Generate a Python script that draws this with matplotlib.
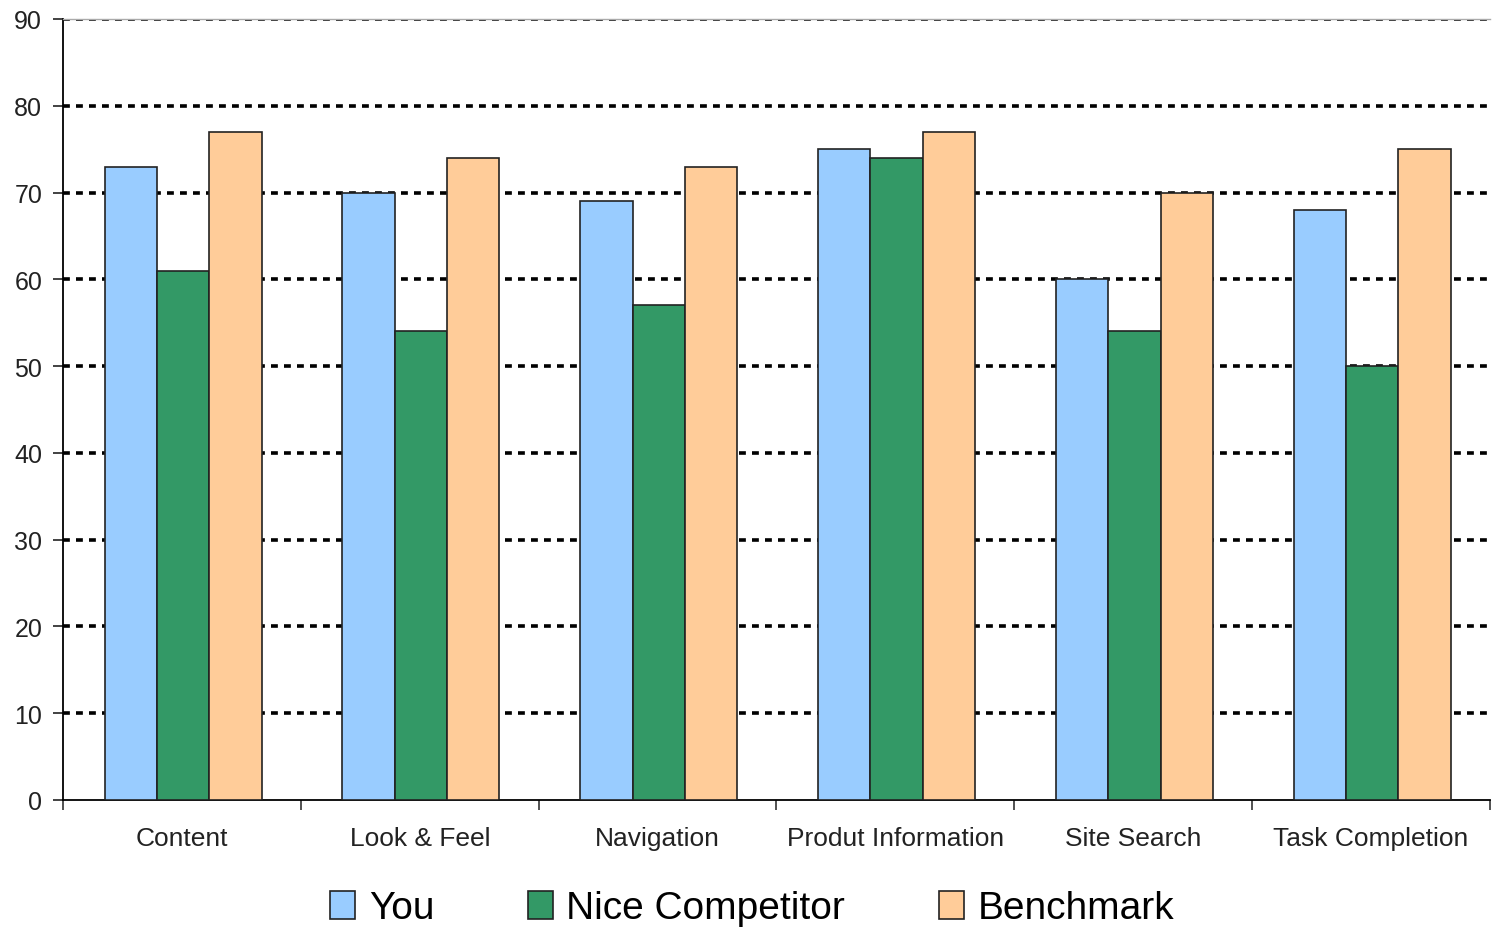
import matplotlib
matplotlib.use('Agg')
import matplotlib.pyplot as plt
import numpy as np

plt.rcParams['font.family'] = ['Liberation Sans', 'DejaVu Sans']

# ---------------------------------------------------------------
# data
categories = ['Content', 'Look & Feel', 'Navigation',
              'Produt Information', 'Site Search', 'Task Completion']
you = [73, 70, 69, 75, 60, 68]
competitor = [61, 54, 57, 74, 54, 50]
benchmark = [77, 74, 73, 77, 70, 75]
series_names = ['You', 'Nice Competitor', 'Benchmark']
yticks = [0, 10, 20, 30, 40, 50, 60, 70, 80, 90]

colors = ['#99CCFF', '#339966', '#FFCC99']

# ---------------------------------------------------------------
fig = plt.figure(figsize=(14.92, 9.29), dpi=100)
ax = fig.add_axes([63 / 1492, 1 - 801 / 929, (1490 - 63) / 1492, (801 - 20) / 929])

x = np.arange(len(categories))
w = 0.22
handles = []
for k, vals in enumerate([you, competitor, benchmark]):
    b = ax.bar(x + (k - 1) * w + 0.005, vals, w, color=colors[k],
               edgecolor='#222222', linewidth=1.2, zorder=3,
               label=series_names[k])
    handles.append(b)

ax.set_xlim(-0.5, len(categories) - 0.5)
ax.set_ylim(0, 90)
ax.set_yticks(yticks)
for yv in yticks[1:]:
    ax.axhline(yv, color='black', lw=2.6, linestyle=(0, (1.9, 1.7)), zorder=1)

ax.set_xticks(x)
ax.set_xticklabels(categories, fontsize=19)
ax.set_xticks(np.arange(len(categories) + 1) - 0.5, minor=True)
ax.tick_params(axis='x', which='major', length=0, pad=19, colors='#222222')
ax.tick_params(axis='x', which='minor', length=7, width=1.2, direction='out',
               color='#333333')
ax.tick_params(axis='y', length=7, width=1.2, direction='out', pad=8,
               labelsize=18, colors='#222222')

ax.spines['right'].set_visible(False)
ax.spines['top'].set_color('#aaaaaa')
ax.spines['top'].set_linewidth(1.0)
ax.spines['left'].set_linewidth(1.3)
ax.spines['bottom'].set_linewidth(1.3)

fig.legend(handles=handles, loc='lower center', bbox_to_anchor=(0.504, -0.036),
           ncol=3, frameon=False, fontsize=28, handlelength=0.65,
           handleheight=0.75, handletextpad=0.35, columnspacing=2.4)

plt.savefig('out.png', dpi=100)
